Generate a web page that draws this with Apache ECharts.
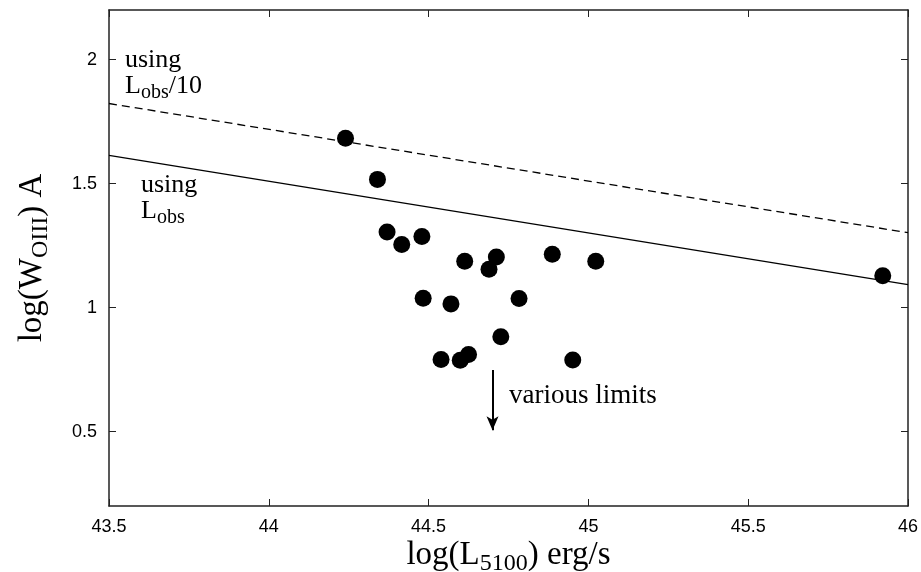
<!DOCTYPE html>
<html>
<head>
<meta charset="utf-8">
<script src="https://cdn.jsdelivr.net/npm/echarts@6/dist/echarts.min.js"></script>
<style>
html,body{margin:0;padding:0;background:#fff;}
#chart{width:921px;height:572px;}
</style>
</head>
<body>
<div id="chart"></div>
<script>
// Data
var logL5100 = [44.24, 44.34, 44.37, 44.416, 44.479, 44.613, 44.712, 44.689, 44.887, 45.023,
                44.483, 44.57, 44.783, 44.726, 44.539, 44.599, 44.625, 44.951, 45.921];
var logW = [1.683, 1.517, 1.305, 1.254, 1.287, 1.187, 1.204, 1.155, 1.215, 1.187,
            1.038, 1.015, 1.037, 0.882, 0.791, 0.788, 0.811, 0.789, 1.128];
var fitObsX = [43.5, 46];
var fitObsY = [1.614, 1.093];
var fitTenthX = [43.5, 46];
var fitTenthY = [1.823, 1.302];
var limitArrowX = [44.7, 44.7];
var limitArrowY = [0.748, 0.505];
var xTicks = [43.5, 44, 44.5, 45, 45.5, 46];
var yTicks = [0.5, 1, 1.5, 2];

var points = logL5100.map(function (x, i) { return [x, logW[i]]; });
var obsLine = fitObsX.map(function (x, i) { return [x, fitObsY[i]]; });
var tenthLine = fitTenthX.map(function (x, i) { return [x, fitTenthY[i]]; });

var serif = 'Liberation Serif, Times New Roman, serif';
var sans = 'Liberation Sans, Arial, sans-serif';
var axisColor = '#222';

var chart = echarts.init(document.getElementById('chart'), null, {renderer: 'canvas'});

var nameRich = {
  a: {fontFamily: serif, fontSize: 33, color: '#000'},
  s: {fontFamily: serif, fontSize: 24, color: '#000', padding: [18, 0, 0, 0]}
};
var noteRich = {
  a: {fontFamily: serif, fontSize: 26, fill: '#000'},
  s: {fontFamily: serif, fontSize: 20, fill: '#000', padding: [14, 0, 0, 0]}
};

chart.setOption({
  animation: false,
  backgroundColor: '#fff',
  grid: {left: 109, right: 13, top: 10, bottom: 66, containLabel: false, outerBoundsMode: 'none'},
  xAxis: [{
    type: 'value', min: 43.5, max: 46, interval: 0.5, position: 'bottom',
    axisLine: {show: true, lineStyle: {color: axisColor, width: 1.5}},
    axisTick: {show: true, inside: true, length: 7, customValues: xTicks, lineStyle: {color: axisColor, width: 1}},
    axisLabel: {show: true, customValues: xTicks, margin: 12, fontFamily: sans, fontSize: 18, color: '#000'},
    splitLine: {show: false},
    name: '{a|log(L}{s|5100}{a|) erg/s}',
    nameLocation: 'middle', nameGap: 28, nameMoveOverlap: false,
    nameTextStyle: {rich: nameRich}
  }, {
    type: 'value', min: 43.5, max: 46, interval: 0.5, position: 'top',
    axisLine: {show: true, lineStyle: {color: axisColor, width: 1.5}},
    axisTick: {show: true, inside: true, length: 7, customValues: xTicks, lineStyle: {color: axisColor, width: 1}},
    axisLabel: {show: false}, splitLine: {show: false}
  }],
  yAxis: [{
    type: 'value', min: 0.2, max: 2.2, position: 'left',
    axisLine: {show: true, lineStyle: {color: axisColor, width: 1.5}},
    axisTick: {show: true, inside: true, length: 7, customValues: yTicks, lineStyle: {color: axisColor, width: 1}},
    axisLabel: {show: true, customValues: yTicks, margin: 12, fontFamily: sans, fontSize: 18, color: '#000'},
    splitLine: {show: false},
    name: '{a|log(W}{s|OIII}{a|) A}',
    nameLocation: 'middle', nameGap: 56, nameRotate: 90,
    nameTextStyle: {rich: nameRich}
  }, {
    type: 'value', min: 0.2, max: 2.2, position: 'right',
    axisLine: {show: true, lineStyle: {color: axisColor, width: 1.5}},
    axisTick: {show: true, inside: true, length: 7, customValues: yTicks, lineStyle: {color: axisColor, width: 1}},
    axisLabel: {show: false}, splitLine: {show: false}
  }],
  series: [{
    type: 'line', data: tenthLine, showSymbol: false, symbol: 'none',
    lineStyle: {color: '#000', width: 1.3, type: [8, 5]}, z: 2
  }, {
    type: 'line', data: obsLine, showSymbol: false, symbol: 'none',
    lineStyle: {color: '#000', width: 1.3}, z: 2
  }, {
    type: 'scatter', data: points, symbol: 'circle', symbolSize: 17,
    itemStyle: {color: '#000', opacity: 1}, z: 3,
    markLine: {
      silent: true, symbol: ['none', 'arrow'], symbolSize: [9, 14],
      lineStyle: {color: '#000', width: 2, type: 'solid'},
      label: {show: false},
      data: [[{coord: [limitArrowX[0], limitArrowY[0]]}, {coord: [limitArrowX[1], limitArrowY[1]]}]]
    }
  }],
  graphic: [
    {type: 'text', left: 125, top: 47, style: {text: 'using', font: '26px ' + serif, fill: '#000'}},
    {type: 'text', left: 125, top: 73, style: {text: '{a|L}{s|obs}{a|/10}', rich: noteRich}},
    {type: 'text', left: 141, top: 172, style: {text: 'using', font: '26px ' + serif, fill: '#000'}},
    {type: 'text', left: 141, top: 198, style: {text: '{a|L}{s|obs}', rich: noteRich}},
    {type: 'text', left: 509, top: 382, style: {text: 'various limits', font: '27px ' + serif, fill: '#000'}}
  ]
});
</script>
</body>
</html>
